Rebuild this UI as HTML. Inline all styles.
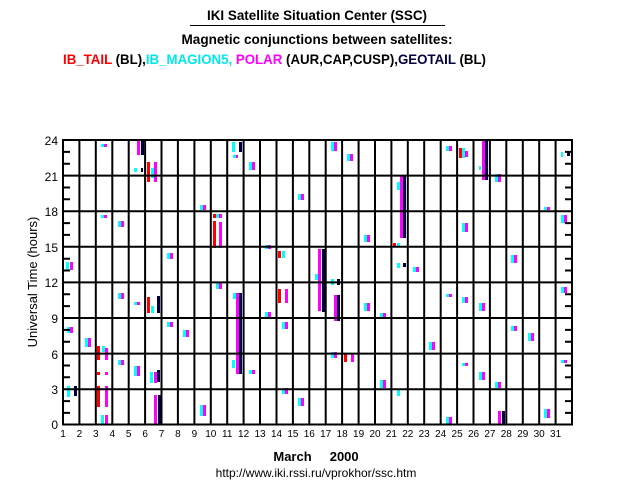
<!DOCTYPE html>
<html><head><meta charset="utf-8"><style>
html,body{margin:0;padding:0;background:#fff;}
svg{display:block;font-family:"Liberation Sans",sans-serif;}
</style></head><body>
<svg width="636" height="500" viewBox="0 0 636 500" xmlns="http://www.w3.org/2000/svg">
<rect width="636" height="500" fill="#fff"/>
<text x="317" y="20" font-size="14" font-weight="bold" text-anchor="middle" textLength="220" lengthAdjust="spacingAndGlyphs">IKI Satellite Situation Center (SSC)</text>
<line x1="190" y1="25.5" x2="445" y2="25.5" stroke="#000" stroke-width="1"/>
<text x="317" y="44" font-size="14" font-weight="bold" text-anchor="middle" textLength="271" lengthAdjust="spacingAndGlyphs">Magnetic conjunctions between satellites:</text>
<text x="63" y="64" font-size="14" font-weight="bold" textLength="423" lengthAdjust="spacingAndGlyphs"><tspan fill="#ff0000">IB_TAIL</tspan><tspan fill="#000"> (BL),</tspan><tspan fill="#00e8e8">IB_MAGION5,</tspan><tspan fill="#ff00ff"> POLAR</tspan><tspan fill="#000"> (AUR,CAP,CUSP),</tspan><tspan fill="#000040">GEOTAIL</tspan><tspan fill="#000"> (BL)</tspan></text>

<g id="data">
<g fill="#00ffff">
<rect x="66" y="262" width="3" height="8"/><rect x="67" y="327" width="3" height="6"/><rect x="67" y="386" width="3" height="11"/>
<rect x="85" y="338" width="3" height="9"/>
<rect x="101" y="144" width="3" height="3"/><rect x="101" y="215" width="3" height="3"/><rect x="102" y="346" width="3" height="6"/><rect x="101" y="415" width="3" height="10"/>
<rect x="118" y="221" width="3" height="6"/><rect x="118" y="293" width="3" height="6"/><rect x="118" y="360" width="3" height="5"/>
<rect x="134" y="168" width="3" height="4"/><rect x="134" y="302" width="3" height="3"/><rect x="134" y="366" width="3" height="10"/>
<rect x="151" y="168" width="3" height="10"/><rect x="151" y="306" width="3" height="7"/><rect x="150" y="372" width="3" height="11"/>
<rect x="167" y="253" width="3" height="6"/><rect x="167" y="322" width="3" height="5"/><rect x="183" y="330" width="3" height="7"/>
<rect x="200" y="205" width="3" height="5"/><rect x="200" y="405" width="3" height="11"/>
<rect x="216" y="214" width="3" height="4"/><rect x="216" y="283" width="3" height="6"/>
<rect x="232" y="142" width="3" height="10"/><rect x="233" y="155" width="3" height="3"/><rect x="233" y="293" width="3" height="6"/><rect x="232" y="360" width="3" height="8"/>
<rect x="249" y="162" width="3" height="8"/><rect x="249" y="370" width="3" height="4"/>
<rect x="265" y="245" width="3" height="4"/><rect x="265" y="312" width="3" height="6"/>
<rect x="282" y="251" width="3" height="7"/><rect x="282" y="322" width="3" height="7"/><rect x="282" y="388" width="3" height="6"/>
<rect x="298" y="194" width="3" height="6"/><rect x="298" y="398" width="3" height="8"/>
<rect x="315" y="274" width="3" height="6"/>
<rect x="331" y="142" width="3" height="9"/><rect x="331" y="279" width="3" height="6"/><rect x="331" y="352" width="3" height="6"/>
<rect x="347" y="154" width="3" height="7"/><rect x="364" y="235" width="3" height="7"/><rect x="364" y="303" width="3" height="8"/>
<rect x="380" y="313" width="3" height="5"/><rect x="380" y="380" width="3" height="8"/>
<rect x="397" y="182" width="3" height="8"/><rect x="397" y="243" width="3" height="3"/><rect x="397" y="263" width="3" height="5"/><rect x="397" y="390" width="3" height="6"/>
<rect x="413" y="267" width="3" height="5"/><rect x="429" y="342" width="3" height="8"/>
<rect x="446" y="146" width="3" height="5"/><rect x="446" y="294" width="3" height="3"/><rect x="446" y="417" width="3" height="8"/>
<rect x="462" y="148" width="3" height="10"/><rect x="462" y="223" width="3" height="9"/><rect x="462" y="297" width="3" height="6"/><rect x="462" y="363" width="3" height="3"/>
<rect x="479" y="166" width="2" height="4"/><rect x="479" y="303" width="3" height="8"/><rect x="479" y="372" width="3" height="8"/>
<rect x="495" y="174" width="3" height="8"/><rect x="495" y="382" width="3" height="6"/>
<rect x="511" y="255" width="3" height="8"/><rect x="511" y="326" width="3" height="5"/>
<rect x="528" y="333" width="3" height="8"/><rect x="544" y="207" width="3" height="3"/><rect x="544" y="409" width="3" height="9"/>
<rect x="561" y="152" width="2" height="5"/><rect x="561" y="215" width="3" height="8"/><rect x="561" y="287" width="3" height="6"/><rect x="561" y="360" width="3" height="3"/>
</g>
<g fill="#ff00ff">
<rect x="70" y="262" width="3" height="8"/><rect x="70" y="327" width="3" height="6"/><rect x="88" y="338" width="3" height="9"/>
<rect x="104" y="144" width="3" height="3"/><rect x="104" y="215" width="3" height="3"/><rect x="105" y="348" width="3" height="12"/><rect x="105" y="372" width="3" height="3"/><rect x="105" y="386" width="3" height="21"/><rect x="105" y="415" width="3" height="10"/>
<rect x="121" y="221" width="3" height="6"/><rect x="121" y="293" width="3" height="6"/><rect x="121" y="360" width="3" height="5"/>
<rect x="137" y="140" width="3" height="15"/><rect x="137" y="302" width="3" height="3"/><rect x="137" y="366" width="3" height="10"/>
<rect x="154" y="162" width="3" height="20"/><rect x="154" y="372" width="3" height="11"/><rect x="154" y="395" width="3" height="30"/>
<rect x="170" y="253" width="3" height="6"/><rect x="170" y="322" width="3" height="5"/><rect x="186" y="330" width="3" height="7"/>
<rect x="203" y="205" width="3" height="5"/><rect x="203" y="405" width="3" height="11"/>
<rect x="219" y="214" width="3" height="4"/><rect x="219" y="222" width="3" height="26"/><rect x="219" y="283" width="3" height="6"/>
<rect x="236" y="155" width="2" height="3"/><rect x="236" y="293" width="3" height="81"/>
<rect x="252" y="162" width="3" height="8"/><rect x="252" y="370" width="3" height="4"/>
<rect x="268" y="245" width="3" height="4"/><rect x="268" y="312" width="3" height="6"/>
<rect x="285" y="289" width="3" height="14"/><rect x="285" y="322" width="3" height="7"/><rect x="285" y="388" width="3" height="6"/>
<rect x="301" y="194" width="3" height="6"/><rect x="301" y="398" width="3" height="8"/>
<rect x="318" y="249" width="3" height="62"/>
<rect x="334" y="142" width="3" height="9"/><rect x="334" y="295" width="3" height="26"/><rect x="334" y="352" width="3" height="6"/>
<rect x="350" y="154" width="3" height="7"/><rect x="351" y="353" width="3" height="9"/><rect x="367" y="235" width="3" height="7"/><rect x="367" y="303" width="3" height="8"/>
<rect x="383" y="313" width="3" height="5"/><rect x="383" y="380" width="3" height="8"/>
<rect x="400" y="176" width="3" height="62"/><rect x="416" y="267" width="3" height="5"/><rect x="432" y="342" width="3" height="8"/>
<rect x="449" y="146" width="3" height="5"/><rect x="449" y="294" width="3" height="3"/><rect x="449" y="417" width="3" height="8"/>
<rect x="465" y="151" width="3" height="6"/><rect x="465" y="223" width="3" height="9"/><rect x="465" y="297" width="3" height="6"/><rect x="465" y="363" width="3" height="3"/>
<rect x="482" y="140" width="3" height="40"/><rect x="482" y="303" width="3" height="8"/><rect x="482" y="372" width="3" height="8"/>
<rect x="498" y="174" width="3" height="8"/><rect x="498" y="382" width="3" height="6"/><rect x="498" y="411" width="3" height="14"/>
<rect x="514" y="255" width="3" height="8"/><rect x="514" y="326" width="3" height="5"/>
<rect x="531" y="333" width="3" height="8"/><rect x="547" y="207" width="3" height="3"/><rect x="547" y="409" width="3" height="9"/>
<rect x="564" y="215" width="3" height="8"/><rect x="564" y="287" width="3" height="6"/><rect x="564" y="360" width="3" height="3"/>
</g>
<g fill="#ff0000">
<rect x="97" y="346" width="3" height="14"/><rect x="97" y="372" width="3" height="3"/><rect x="97" y="386" width="3" height="21"/>
<rect x="147" y="162" width="3" height="20"/><rect x="147" y="297" width="3" height="16"/>
<rect x="213" y="214" width="3" height="4"/><rect x="213" y="221" width="3" height="27"/>
<rect x="278" y="251" width="3" height="7"/><rect x="278" y="289" width="3" height="14"/>
<rect x="344" y="353" width="3" height="9"/><rect x="393" y="243" width="3" height="3"/><rect x="459" y="148" width="3" height="10"/>
</g>
<g fill="#000040">
<rect x="74" y="386" width="3" height="10"/><rect x="141" y="140" width="3" height="15"/><rect x="141" y="168" width="2" height="4"/>
<rect x="157" y="296" width="3" height="17"/><rect x="157" y="370" width="3" height="12"/><rect x="158" y="395" width="3" height="30"/>
<rect x="239" y="142" width="3" height="10"/><rect x="239" y="293" width="3" height="81"/>
<rect x="322" y="249" width="3" height="63"/><rect x="337" y="279" width="3" height="6"/><rect x="337" y="295" width="3" height="26"/>
<rect x="403" y="176" width="3" height="62"/><rect x="403" y="263" width="3" height="4"/>
<rect x="485" y="140" width="3" height="40"/><rect x="502" y="411" width="3" height="14"/><rect x="567" y="152" width="3" height="4"/>
</g>
</g>

<g stroke="#000" stroke-width="2" fill="none">
<rect x="63" y="140" width="509" height="284.5"/>
<path d="M63 175.6H572M63 211.2H572M63 246.8H572M63 282.4H572M63 318H572M63 353.6H572M63 389.2H572"/>
<path d="M79.4 140V424.5M95.8 140V424.5M112.3 140V424.5M128.7 140V424.5M145.1 140V424.5M161.5 140V424.5M177.9 140V424.5M194.4 140V424.5M210.8 140V424.5M227.2 140V424.5M243.6 140V424.5M260 140V424.5M276.5 140V424.5M292.9 140V424.5M309.3 140V424.5M325.7 140V424.5M342.1 140V424.5M358.6 140V424.5M375 140V424.5M391.4 140V424.5M407.8 140V424.5M424.2 140V424.5M440.7 140V424.5M457.1 140V424.5M473.5 140V424.5M489.9 140V424.5M506.3 140V424.5M522.8 140V424.5M539.2 140V424.5M555.6 140V424.5"/>
<path d="M63 151.9h7M63 163.7h7M63 187.5h7M63 199.3h7M63 223.1h7M63 234.9h7M63 258.7h7M63 270.5h7M63 294.3h7M63 306.1h7M63 329.9h7M63 341.7h7M63 365.5h7M63 377.3h7M63 401.1h7M63 412.9h7"/>
<path d="M565 151.9h7M565 163.7h7M565 187.5h7M565 199.3h7M565 223.1h7M565 234.9h7M565 258.7h7M565 270.5h7M565 294.3h7M565 306.1h7M565 329.9h7M565 341.7h7M565 365.5h7M565 377.3h7M565 401.1h7M565 412.9h7"/>
</g>

<g font-size="12" text-anchor="end" fill="#000">
<text x="58" y="145">24</text><text x="58" y="181">21</text><text x="58" y="216">18</text><text x="58" y="252">15</text><text x="58" y="287">12</text><text x="58" y="323">9</text><text x="58" y="359">6</text><text x="58" y="394">3</text><text x="58" y="429">0</text>
</g>
<g font-size="10" text-anchor="middle" fill="#000">
<text x="63" y="437">1</text><text x="79.4" y="437">2</text><text x="95.8" y="437">3</text><text x="112.3" y="437">4</text><text x="128.7" y="437">5</text><text x="145.1" y="437">6</text><text x="161.5" y="437">7</text><text x="177.9" y="437">8</text><text x="194.4" y="437">9</text><text x="210.8" y="437">10</text><text x="227.2" y="437">11</text><text x="243.6" y="437">12</text><text x="260" y="437">13</text><text x="276.5" y="437">14</text><text x="292.9" y="437">15</text><text x="309.3" y="437">16</text><text x="325.7" y="437">17</text><text x="342.1" y="437">18</text><text x="358.6" y="437">19</text><text x="375" y="437">20</text><text x="391.4" y="437">21</text><text x="407.8" y="437">22</text><text x="424.2" y="437">23</text><text x="440.7" y="437">24</text><text x="457.1" y="437">25</text><text x="473.5" y="437">26</text><text x="489.9" y="437">27</text><text x="506.3" y="437">28</text><text x="522.8" y="437">29</text><text x="539.2" y="437">30</text><text x="555.6" y="437">31</text>
</g>
<text x="0" y="0" font-size="13" text-anchor="middle" transform="translate(37,282) rotate(-90)">Universal Time (hours)</text>
<text x="316" y="461" font-size="13" font-weight="bold" text-anchor="middle" xml:space="preserve">March     2000</text>
<text x="316" y="477" font-size="12" text-anchor="middle">http://www.iki.rssi.ru/vprokhor/ssc.htm</text>
</svg>
</body></html>
